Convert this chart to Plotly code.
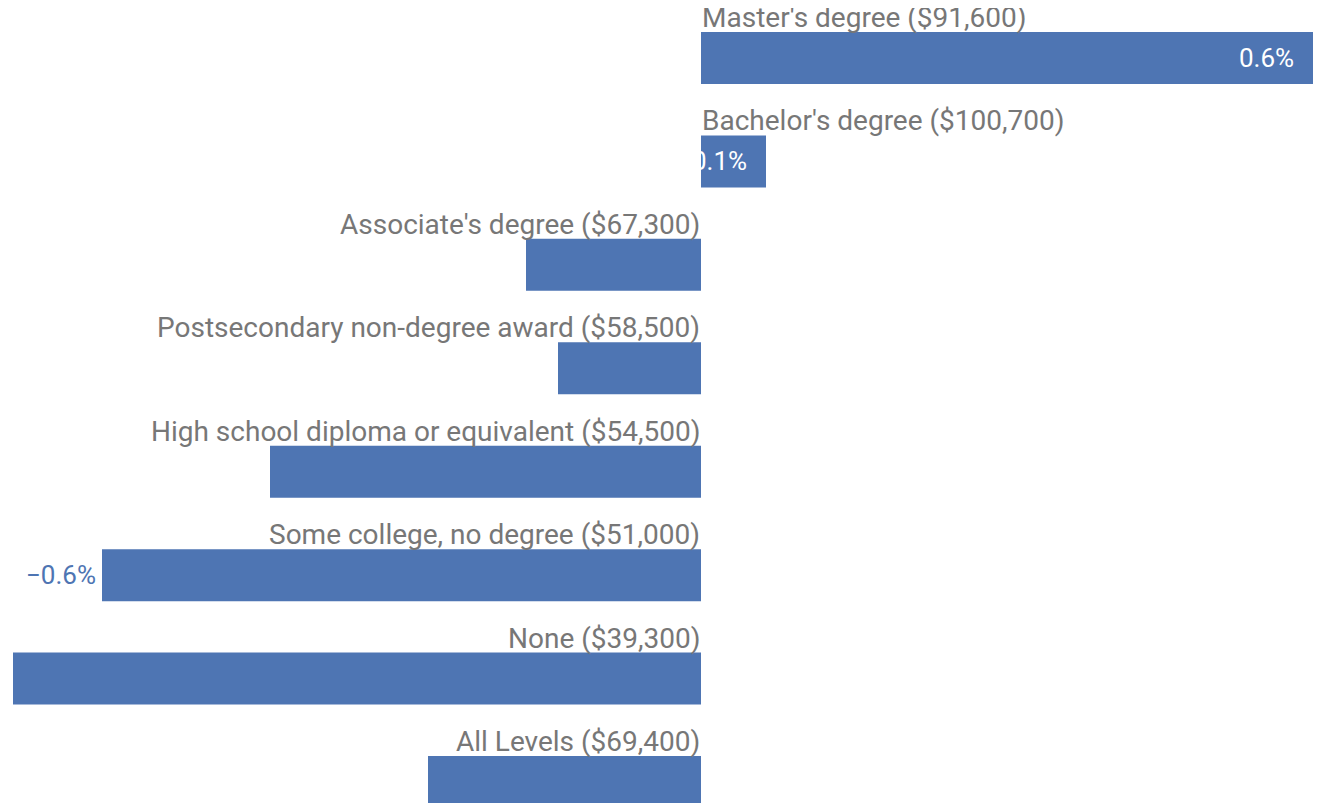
import plotly.graph_objects as go

categories = ["Master's degree", "Bachelor's degree", "Associate's degree",
              "Postsecondary non-degree award", "High school diploma or equivalent",
              "Some college, no degree", "None", "All Levels"]
salaries = ["$91,600", "$100,700", "$67,300", "$58,500", "$54,500", "$51,000", "$39,300", "$69,400"]
changes = [0.612, 0.065, -0.175, -0.143, -0.431, -0.599, -0.688, -0.273]
value_labels = ["0.6%", "0.1%", "", "", "", "\u22120.6%", "", ""]

BAR = "#4E75B3"
GRAY = "#777777"
FONT = "Roboto"

ypos = list(range(len(categories)))
bar_w = 0.503

fig = go.Figure(go.Bar(
    x=changes, y=ypos, orientation="h", width=bar_w,
    marker=dict(color=BAR, line=dict(width=0)), hoverinfo="skip",
))

ann = []
for i, (c, s, v) in enumerate(zip(categories, salaries, changes)):
    pos = v >= 0
    ann.append(dict(
        x=0, y=i - bar_w / 2, xref="x", yref="y",
        text=f"{c} ({s})", showarrow=False,
        xanchor="left" if pos else "right", yanchor="bottom",
        xshift=0, yshift=-3, borderpad=0,
        font=dict(family=FONT, size=28, color=GRAY),
    ))
    lab = value_labels[i]
    if lab:
        if pos:
            ann.append(dict(x=v, y=i, xref="x", yref="y", text=lab, showarrow=False,
                            xanchor="right", yanchor="middle", xshift=-17,
                            font=dict(family=FONT, size=26, color="white")))
        else:
            ann.append(dict(x=v, y=i, xref="x", yref="y", text=lab, showarrow=False,
                            xanchor="right", yanchor="middle", xshift=-4,
                            font=dict(family=FONT, size=26, color=BAR)))

fig.update_layout(
    width=1314, height=795,
    margin=dict(l=0, r=0, t=0, b=0),
    paper_bgcolor="white", plot_bgcolor="white",
    showlegend=False,
    xaxis=dict(range=[-0.693, 0.621], visible=False, fixedrange=True),
    yaxis=dict(range=[7.203, -0.4834], visible=False, fixedrange=True),
    annotations=ann,
    font=dict(family=FONT),
)

fig.write_html("out.html", config={"displayModeBar": False})
